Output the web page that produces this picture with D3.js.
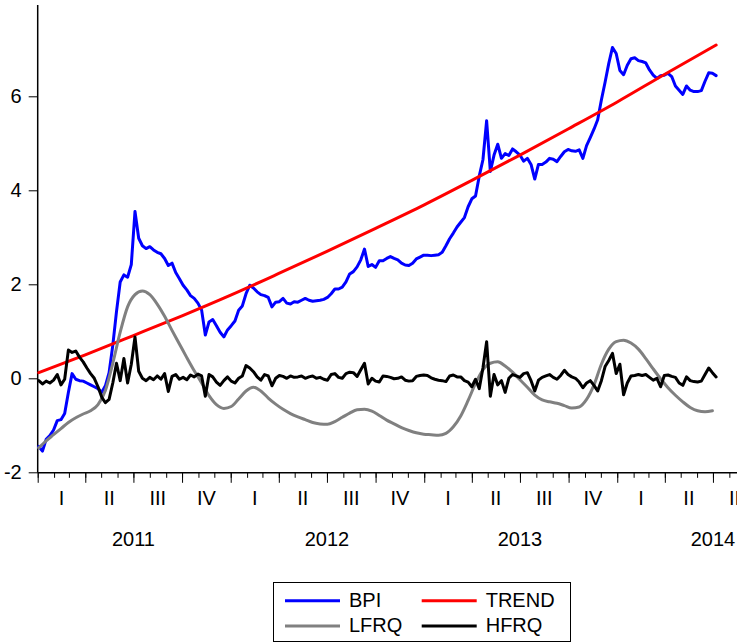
<!DOCTYPE html>
<html>
<head>
<meta charset="utf-8">
<script src="https://cdn.jsdelivr.net/npm/d3@7"></script>
<style>
  html, body { margin: 0; padding: 0; background: #fff; }
  svg { display: block; font-family: "Liberation Sans", Arial, Helvetica, sans-serif; }
</style>
</head>
<body>
<svg id="chart" width="737" height="643"></svg>
<script>
// ---- Data -------------------------------------------------------------
// Weekly observations, first week starting 2011-01-03
const weekStart = "2011-01-03";

// Log Bitcoin price index (weekly)
const bpi = [
  -1.45, -1.55, -1.30, -1.22, -1.10, -0.90, -0.88, -0.75, -0.30, 0.10,
  -0.02, -0.05, -0.06, -0.10, -0.14, -0.18, -0.22, -0.30, -0.16, 0.12,
  0.70, 1.42, 2.05, 2.20, 2.15, 2.42, 3.55, 2.98, 2.82, 2.76,
  2.80, 2.73, 2.68, 2.65, 2.55, 2.40, 2.45, 2.25, 2.12, 1.98,
  1.88, 1.76, 1.70, 1.60, 1.45, 0.92, 1.20, 1.25, 1.12, 0.98,
  0.88, 1.03, 1.12, 1.22, 1.45, 1.54, 1.80, 1.98, 1.92, 1.84,
  1.78, 1.76, 1.72, 1.52, 1.62, 1.63, 1.70, 1.60, 1.58, 1.63,
  1.62, 1.66, 1.70, 1.66, 1.64, 1.65, 1.66, 1.68, 1.72, 1.80,
  1.90, 1.90, 1.94, 2.05, 2.22, 2.27, 2.37, 2.52, 2.75, 2.38,
  2.42, 2.36, 2.50, 2.50, 2.55, 2.59, 2.55, 2.52, 2.45, 2.41,
  2.40, 2.45, 2.54, 2.58, 2.62, 2.62, 2.61, 2.62, 2.63, 2.68,
  2.82, 2.97, 3.09, 3.22, 3.32, 3.42, 3.65, 3.82, 3.88, 4.30,
  4.65, 5.48, 4.40, 4.75, 4.98, 4.68, 4.78, 4.74, 4.88, 4.82,
  4.75, 4.62, 4.68, 4.55, 4.24, 4.55, 4.55, 4.60, 4.68, 4.66,
  4.61, 4.72, 4.82, 4.87, 4.84, 4.83, 4.86, 4.68, 4.95, 5.12,
  5.30, 5.50, 5.92, 6.30, 6.70, 7.04, 6.91, 6.55, 6.46, 6.66,
  6.80, 6.82, 6.76, 6.74, 6.71, 6.56, 6.45, 6.38, 6.44, 6.45,
  6.49, 6.42, 6.22, 6.13, 6.04, 6.22, 6.13, 6.10, 6.10, 6.12,
  6.32, 6.50, 6.49, 6.44
];

// High-frequency component (weekly)
const hfrq = [
  -0.05, -0.12, -0.06, -0.10, -0.04, 0.08, -0.14, -0.02, 0.60, 0.55,
  0.58, 0.45, 0.35, 0.22, 0.10, 0.00, -0.18, -0.40, -0.52, -0.45,
  -0.10, 0.32, -0.05, 0.42, -0.10, 0.30, 0.88, 0.15, 0.00, -0.05,
  0.02, -0.03, 0.05, -0.02, 0.10, -0.28, 0.04, 0.08, -0.02, 0.02,
  -0.03, 0.07, 0.03, 0.09, 0.05, -0.38, 0.08, 0.03, -0.08, -0.15,
  -0.05, 0.03, -0.06, -0.10, 0.00, 0.05, 0.27, 0.22, 0.14, 0.03,
  -0.04, 0.08, 0.05, -0.16, 0.00, 0.06, 0.04, 0.00, 0.05, 0.02,
  0.03, 0.05, 0.00, 0.03, 0.05, 0.00, 0.02, -0.02, -0.04, 0.08,
  0.10, 0.02, 0.00, 0.10, 0.13, 0.12, 0.04, 0.18, 0.32, -0.12,
  0.00, -0.06, -0.08, 0.05, 0.04, 0.02, -0.01, 0.00, 0.03, -0.04,
  -0.06, -0.05, 0.04, 0.06, 0.07, 0.06, 0.01, -0.02, -0.04, -0.05,
  -0.07, 0.05, 0.07, 0.03, 0.03, -0.05, -0.08, -0.18, -0.02, -0.22,
  0.22, 0.78, -0.38, 0.08, -0.14, -0.05, -0.30, 0.00, 0.08, 0.05,
  0.02, 0.10, 0.12, -0.05, -0.27, -0.04, 0.02, 0.05, 0.08, 0.02,
  -0.02, 0.06, 0.17, 0.08, 0.03, 0.00, -0.08, -0.20, -0.10, -0.05,
  -0.15, -0.27, -0.05, 0.25, 0.38, 0.53, 0.10, 0.30, -0.35, -0.10,
  0.05, 0.06, 0.08, 0.06, 0.08, 0.02, -0.04, 0.00, -0.18, 0.06,
  0.07, 0.04, 0.02, -0.10, -0.15, 0.03, -0.05, -0.07, -0.08, -0.06,
  0.08, 0.22, 0.12, 0.03
];

// Low-frequency component (every two weeks from weekStart)
const lfrq = [
  -1.48, -1.33, -1.20, -1.07, -0.94, -0.84, -0.76, -0.69, -0.56, -0.26,
  0.32, 0.98, 1.52, 1.78, 1.86, 1.78, 1.58, 1.32, 1.02, 0.73,
  0.44, 0.16, -0.10, -0.37, -0.56, -0.64, -0.60, -0.44, -0.27, -0.19,
  -0.27, -0.42, -0.55, -0.66, -0.75, -0.82, -0.88, -0.94, -0.97, -0.98,
  -0.92, -0.83, -0.74, -0.67, -0.66, -0.70, -0.79, -0.89, -0.97, -1.05,
  -1.11, -1.16, -1.19, -1.20, -1.21, -1.17, -1.03, -0.80, -0.47, -0.11,
  0.18, 0.32, 0.35, 0.26, 0.13, -0.03, -0.19, -0.36, -0.46, -0.50,
  -0.53, -0.58, -0.63, -0.61, -0.45, -0.14, 0.30, 0.62, 0.78, 0.81,
  0.75, 0.62, 0.42, 0.20, -0.01, -0.20, -0.36, -0.50, -0.62, -0.69,
  -0.71, -0.69
];

// Deterministic trend, quarterly readings
const trendDates = [
  "2011-01-03", "2011-04-01", "2011-07-01", "2011-10-01",
  "2012-01-01", "2012-04-01", "2012-07-01", "2012-10-01",
  "2013-01-01", "2013-04-01", "2013-07-01", "2013-10-01",
  "2014-01-01", "2014-04-01", "2014-07-07"
];
const trend = [
  0.12, 0.50, 0.91, 1.33,
  1.77, 2.23, 2.70, 3.19,
  3.69, 4.21, 4.75, 5.31,
  5.88, 6.47, 7.09
];

// Axis labels
const yTicks = [-2, 0, 2, 4, 6];
const quarterLabels = ["I", "II", "III", "IV"];
const yearLabels = ["2011", "2012", "2013", "2014"];

// Legend entries
const seriesNames = ["BPI", "TREND", "LFRQ", "HFRQ"];
const seriesColors = ["#0000ff", "#ff0000", "#808080", "#000000"];

// ---- Layout -----------------------------------------------------------
const svg = d3.select("#chart");
const parse = d3.utcParse("%Y-%m-%d");
const t0 = parse(weekStart);
const fontSize = 20;

const x = d3.scaleUtc()
  .domain([parse("2011-01-01"), parse("2014-10-01")])
  .range([37.7, 761.6]);
const y = d3.scaleLinear().domain([-2, 8]).range([472.3, 2.3]);

const weekly = vals => vals.map((v, i) => ({ d: d3.utcDay.offset(t0, 7 * i), v }));
const biweekly = vals => vals.map((v, i) => ({ d: d3.utcDay.offset(t0, 14 * i), v }));

const bpiData = weekly(bpi);
const hfrqData = weekly(hfrq);
const lfrqData = biweekly(lfrq);
const trendData = trendDates.map((s, i) => ({ d: parse(s), v: trend[i] }));

// ---- Axes -------------------------------------------------------------
const yAxis = d3.axisLeft(y).tickValues(yTicks).tickSize(9).tickPadding(7)
  .tickFormat(v => String(v));
const gy = svg.append("g").attr("transform", "translate(37.7,0)").call(yAxis);
gy.select(".domain").remove();
gy.selectAll(".tick line").attr("stroke", "#000").attr("stroke-width", 1);
gy.selectAll(".tick text").attr("font-size", fontSize).attr("fill", "#000")
  .attr("font-family", "Liberation Sans, Arial, sans-serif");
svg.append("line").attr("x1", 37.7).attr("x2", 37.7).attr("y1", 5).attr("y2", 472.8)
  .attr("stroke", "#000").attr("stroke-width", 1.5);

const xAxisY = 472.8;
const monthAxis = d3.axisBottom(x).ticks(d3.utcMonth.every(1)).tickSize(5).tickFormat("");
const gm = svg.append("g").attr("transform", `translate(0,${xAxisY})`).call(monthAxis);
gm.select(".domain").remove();
const quarterAxis = d3.axisBottom(x).ticks(d3.utcMonth.every(3)).tickSize(10).tickFormat("");
const gq = svg.append("g").attr("transform", `translate(0,${xAxisY})`).call(quarterAxis);
gq.select(".domain").remove();
svg.selectAll(".tick line").attr("stroke", "#000").attr("stroke-width", 1);
svg.append("line").attr("x1", 37.7).attr("x2", 737).attr("y1", xAxisY).attr("y2", xAxisY)
  .attr("stroke", "#000").attr("stroke-width", 1.5);

// Quarter numerals centred in each quarter
const quarters = d3.utcMonth.every(3).range(parse("2011-01-01"), parse("2014-10-01"));
svg.append("g").selectAll("text").data(quarters).join("text")
  .attr("x", q => x(new Date((q.getTime() + d3.utcMonth.offset(q, 3).getTime()) / 2)))
  .attr("y", 504.5)
  .attr("text-anchor", "middle")
  .attr("font-size", fontSize)
  .text(q => quarterLabels[Math.floor(q.getUTCMonth() / 3)]);

// Year labels centred on each year
svg.append("g").selectAll("text").data(yearLabels).join("text")
  .attr("x", s => x(parse(s + "-07-01")))
  .attr("y", 545.5)
  .attr("text-anchor", "middle")
  .attr("font-size", fontSize)
  .text(s => s);

// ---- Series -----------------------------------------------------------
const line = d3.line().x(p => x(p.d)).y(p => y(p.v));
const smooth = d3.line().x(p => x(p.d)).y(p => y(p.v)).curve(d3.curveMonotoneX);

const drawLine = (data, gen, color, w) => svg.append("path")
  .datum(data).attr("d", gen).attr("fill", "none")
  .attr("stroke", color).attr("stroke-width", w)
  .attr("stroke-linejoin", "round").attr("stroke-linecap", "round");

drawLine(bpiData, line, seriesColors[0], 3);
drawLine(trendData, smooth, seriesColors[1], 3);
drawLine(lfrqData, smooth, seriesColors[2], 3);
drawLine(hfrqData, line, seriesColors[3], 3);

// ---- Legend -----------------------------------------------------------
const legend = svg.append("g");
legend.append("rect").attr("x", 273.5).attr("y", 582.5).attr("width", 297).attr("height", 59)
  .attr("fill", "#fff").attr("stroke", "#000").attr("stroke-width", 1);
const cols = [285, 421.7];
const rows = [600.7, 626];
seriesNames.forEach((name, i) => {
  const cx = cols[i % 2], cy = rows[Math.floor(i / 2)];
  legend.append("line").attr("x1", cx).attr("x2", cx + 55).attr("y1", cy).attr("y2", cy)
    .attr("stroke", seriesColors[i]).attr("stroke-width", 3);
  legend.append("text").attr("x", cx + 64).attr("y", cy + 6)
    .attr("font-size", fontSize).text(name);
});
</script>
</body>
</html>
